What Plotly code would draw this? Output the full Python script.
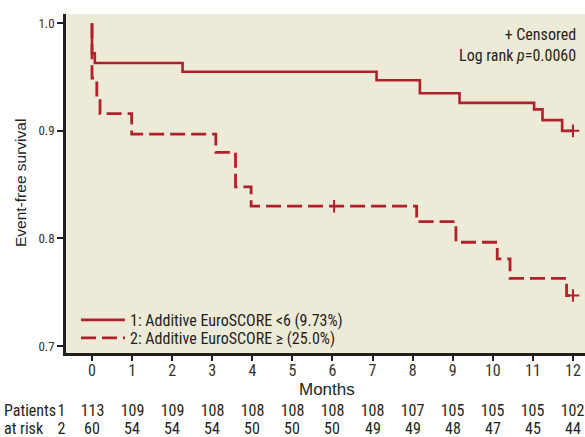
import plotly.graph_objects as go

# ---- data ----
months = list(range(0, 13))
tick_labels = [str(m) for m in months]
yticks = [0.7, 0.8, 0.9, 1.0]
ytick_labels = ["0.7", "0.8", "0.9", "1.0"]

g1_time = [0, 0, 0.07, 2.26, 7.10, 8.18, 9.17, 11.03, 11.24, 11.73, 12.0]
g1_surv = [1.0, 0.972, 0.963, 0.955, 0.947, 0.935, 0.926, 0.920, 0.910, 0.900, 0.900]
g1_cens_time = [12.0]
g1_cens_surv = [0.900]

g2_time = [0, 0, 0.12, 0.20, 0.99, 3.09, 3.58, 3.97, 8.10, 9.08, 10.11, 10.43, 11.84, 12.0]
g2_surv = [1.0, 0.949, 0.931, 0.916, 0.897, 0.880, 0.848, 0.830, 0.8156, 0.7965, 0.781, 0.763, 0.747, 0.747]
g2_cens_time = [6.04, 12.0]
g2_cens_surv = [0.830, 0.747]

risk_g1 = [113, 109, 109, 108, 108, 108, 108, 108, 107, 105, 105, 105, 102]
risk_g2 = [60, 54, 54, 54, 50, 50, 50, 49, 49, 48, 47, 45, 44]
risk_row_labels = [("Patients", "1"), ("at risk", "2")]

name1 = "1: Additive EuroSCORE <6 (9.73%)"
name2 = "2: Additive EuroSCORE \u2265 (25.0%)"

RED = "#B0222B"
BG = "#EDEAD7"
NARROW = "Roboto"          # rendered condensed via font-stretch (see post_script)
SANS = "Liberation Sans, Arial, sans-serif"
TXT = "#231F20"

W, H = 585, 437
L, R, T, B = 66, 0, 14, 84


def px_x(p):
    return (p - L) / (W - L - R)


def px_y(p):
    return (H - B - p) / (H - T - B)


def nfont(size, color=TXT):
    return dict(family=NARROW, size=size, color=color)


fig = go.Figure()
fig.add_trace(go.Scatter(x=g1_time, y=g1_surv, mode="lines", line_shape="hv",
                         line=dict(color=RED, width=2.6), name=name1, legend="legend"))
fig.add_trace(go.Scatter(x=g2_time, y=g2_surv, mode="lines", line_shape="hv",
                         line=dict(color=RED, width=2.8, dash="15px,6px"), name=name2, legend="legend2"))
fig.add_trace(go.Scatter(x=g1_cens_time, y=g1_cens_surv, mode="markers", showlegend=False,
                         marker=dict(symbol="cross-thin", size=9, line=dict(color=RED, width=2))))
fig.add_trace(go.Scatter(x=g2_cens_time, y=g2_cens_surv, mode="markers", showlegend=False,
                         marker=dict(symbol=["line-ns", "cross-thin"], size=9,
                                     line=dict(color=RED, width=2))))

annotations = []
row_y = [px_y(410), px_y(428)]
for m, a, b in zip(months, risk_g1, risk_g2):
    for val, yy in ((a, row_y[0]), (b, row_y[1])):
        annotations.append(dict(x=m, y=yy, xref="x", yref="paper", text=str(val), showarrow=False,
                                xanchor="center", yanchor="middle", font=nfont(16)))
for (lab, num), yy in zip(risk_row_labels, row_y):
    annotations.append(dict(x=px_x(2), y=yy, xref="paper", yref="paper", text=lab, showarrow=False,
                            xanchor="left", align="left", yanchor="middle", font=nfont(16)))
    annotations.append(dict(x=px_x(61), y=yy, xref="paper", yref="paper", text=num, showarrow=False,
                            xanchor="center", yanchor="middle", font=nfont(16)))
annotations.append(dict(x=px_x(327), y=px_y(389), xref="paper", yref="paper", text="Months",
                        showarrow=False, xanchor="center", yanchor="middle",
                        font=dict(family=SANS, size=17, color=TXT)))
annotations.append(dict(x=px_x(20), y=px_y(183), xref="paper", yref="paper", text="Event-free survival",
                        showarrow=False, xanchor="center", yanchor="middle", textangle=-90,
                        font=dict(family=SANS, size=15.5, color=TXT)))
annotations.append(dict(x=px_x(578), y=px_y(23), xref="paper", yref="paper",
                        text="+ Censored<br>Log rank <i>p</i>=0.0060", align="right",
                        showarrow=False, xanchor="right", yanchor="top",
                        font=nfont(16)))

leg_common = dict(xanchor="left", yanchor="middle", bgcolor="rgba(0,0,0,0)", font=nfont(16),
                  itemwidth=44)
fig.update_layout(
    width=W, height=H,
    margin=dict(l=L, r=R, t=T, b=B, pad=0),
    paper_bgcolor="white", plot_bgcolor=BG,
    showlegend=True,
    legend=dict(x=px_x(76), y=px_y(320), **leg_common),
    legend2=dict(x=px_x(76), y=px_y(338), **leg_common),
    annotations=annotations,
)
fig.update_xaxes(range=[-0.649, 12.30], tickmode="array", tickvals=months, ticktext=tick_labels,
                 ticks="outside", ticklen=5, tickwidth=1.5, tickcolor=TXT,
                 showline=True, linecolor=TXT, linewidth=2.5, showgrid=False, zeroline=False,
                 ticklabelstandoff=-4,
                 tickfont=nfont(16, "#333333"))
fig.update_yaxes(range=[0.6936, 1.0086], tickmode="array", tickvals=yticks, ticktext=ytick_labels,
                 ticks="outside", ticklen=6, tickwidth=1.5, tickcolor=TXT,
                 showline=True, linecolor=TXT, linewidth=2.5, showgrid=False, zeroline=False,
                 tickfont=nfont(13, "#333333"))

ps = """document.body.style.margin='0';document.body.style.overflow='hidden';
var st=document.createElement('style');
st.textContent='text[style*="Roboto"], tspan[style*="Roboto"]{font-stretch:condensed;}';
document.head.appendChild(st);
"""
fig.write_html("out.html", config={"displayModeBar": False}, post_script=ps)
